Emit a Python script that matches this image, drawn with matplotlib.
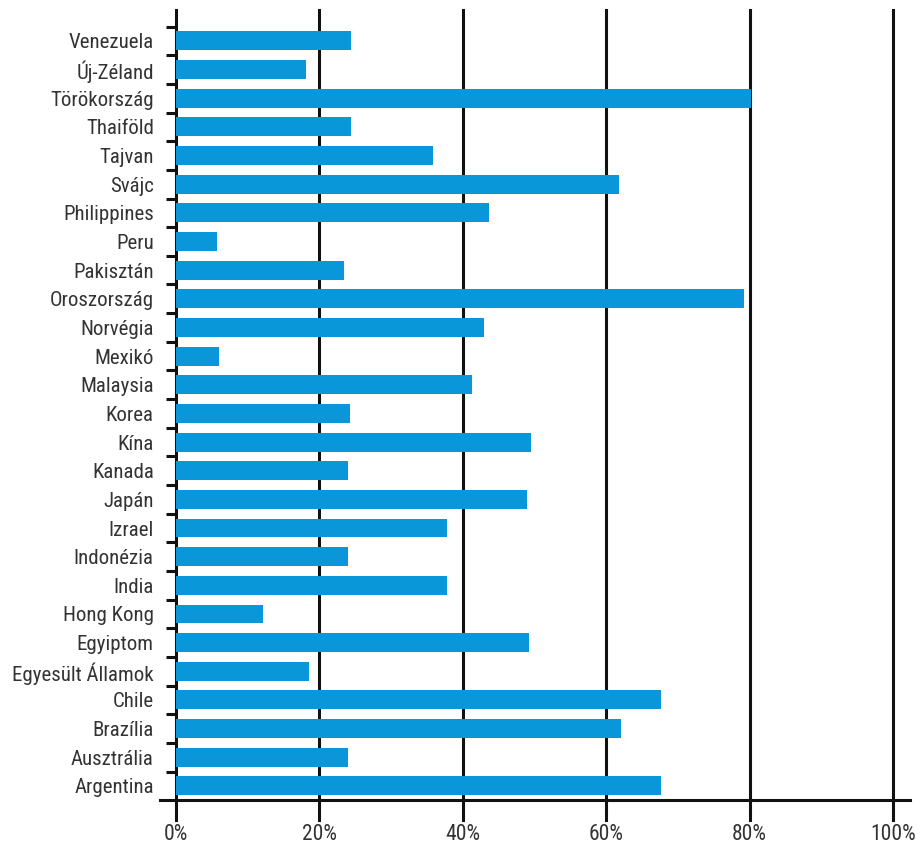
import matplotlib
matplotlib.use("Agg")
import matplotlib.pyplot as plt
from matplotlib.ticker import FixedLocator

# data (bottom to top)
countries = ["Argentina", "Ausztrália", "Brazília", "Chile", "Egyesült Államok",
             "Egyiptom", "Hong Kong", "India", "Indonézia", "Izrael", "Japán",
             "Kanada", "Kína", "Korea", "Malaysia", "Mexikó", "Norvégia",
             "Oroszország", "Pakisztán", "Peru", "Philippines", "Svájc",
             "Tajvan", "Thaiföld", "Törökország", "Új-Zéland", "Venezuela"]
values = [67.6, 24.0, 62.1, 67.6, 18.6,
          49.2, 12.2, 37.8, 24.0, 37.8, 48.9,
          24.0, 49.5, 24.3, 41.3, 6.0, 43.0,
          79.2, 23.4, 5.75, 43.6, 61.8,
          35.9, 24.4, 80.2, 18.2, 24.4]
xticks = [0, 20, 40, 60, 80, 100]
xlabels = ["0%", "20%", "40%", "60%", "80%", "100%"]

plt.rcParams['font.family'] = ['Roboto Condensed', 'Roboto', 'DejaVu Sans']

fig = plt.figure(figsize=(9.23, 8.51), dpi=100)
ax = fig.add_axes([176 / 923, 1 - 820 / 851, (893 - 176) / 923, 810 / 851])

pos = list(range(len(countries)))
ax.barh(pos, values, height=0.66, color='#0a97da', zorder=3)

ax.set_xlim(0, 100)
ax.set_ylim(-1.19, 27.08)

# vertical grid lines (including the left axis)
for x in xticks:
    ax.axvline(x, color='#111111', lw=2.2, zorder=2, clip_on=False)

# horizontal axis line, sticking out on both sides
ax.axhline(-0.5, xmin=-0.022, xmax=1.024, color='#111111', lw=2.2,
           clip_on=False, zorder=4)

for s in ax.spines.values():
    s.set_visible(False)

ax.set_yticks(pos)
ax.set_yticklabels(countries)
ax.yaxis.set_minor_locator(FixedLocator([p + 0.5 for p in pos]))
ax.tick_params(axis='y', which='major', length=0, pad=16, labelsize=15,
               labelcolor='#333333')
ax.tick_params(axis='y', which='minor', length=7, width=2.2, color='#111111')

ax.set_xticks(xticks)
ax.set_xticklabels(xlabels)
ax.tick_params(axis='x', length=0, pad=3, labelsize=15.5, labelcolor='#333333')

fig.savefig("out.png", dpi=100)
